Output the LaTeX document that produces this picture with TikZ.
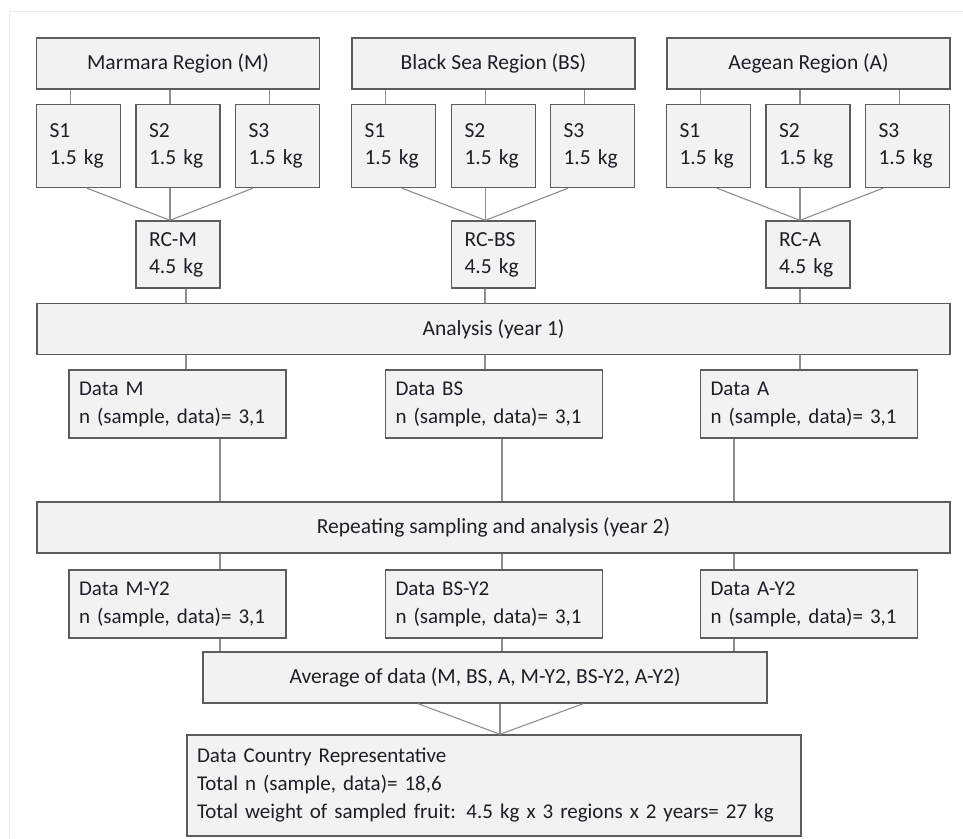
\documentclass[tikz,border=0pt]{standalone}
\usepackage{fontspec}
\setmainfont{Carlito}
\definecolor{ink}{HTML}{1E1E28}
\definecolor{edge}{HTML}{5C5C5C}
\definecolor{link}{HTML}{8E8E8E}
\definecolor{pale}{HTML}{F2F2F2}
\definecolor{frame}{HTML}{ECECEC}

\begin{document}
\begin{tikzpicture}[
  x=1pt,y=-1pt,
  font=\fontsize{21.5}{27}\selectfont,
  text=ink,
  region/.style={draw=edge,fill=pale,line width=1.4pt,
    minimum width=283pt,minimum height=51pt,inner sep=0pt,align=center},
  sample/.style={draw=edge,fill=pale,line width=1.4pt,
    minimum width=84pt,minimum height=83pt,inner sep=0pt,
    text width=58pt,align=left},
  wide/.style={draw=edge,fill=pale,line width=1.4pt,
    minimum width=913pt,minimum height=51pt,inner sep=0pt,align=center},
  datum/.style={draw=edge,fill=pale,line width=1.4pt,
    minimum width=217pt,minimum height=68pt,inner sep=0pt,
    text width=197pt,align=left,font=\fontsize{21}{28}\selectfont},
  link/.style={draw=link,line width=1.1pt}
]
\useasboundingbox (0,0) rectangle (963,838);
\draw[frame,line width=1pt] (9,838) -- (9,11) -- (963,11);

% regions and samples
\node[region] (mreg) at (178,63.5) {Marmara Region (M)};
\node[region] (bsreg) at (493.5,63.5) {Black Sea Region (BS)};
\node[region] (areg) at (808.5,63.5) {Aegean Region (A)};

\node[sample] (ms1) at (78.5,146) {S1\\1.5 kg};
\node[sample] (ms2) at (178,146) {S2\\1.5 kg};
\node[sample] (ms3) at (277.5,146) {S3\\1.5 kg};
\node[sample] (bss1) at (393.5,146) {S1\\1.5 kg};
\node[sample] (bss2) at (493.5,146) {S2\\1.5 kg};
\node[sample] (bss3) at (592.5,146) {S3\\1.5 kg};
\node[sample] (as1) at (708.5,146) {S1\\1.5 kg};
\node[sample] (as2) at (808,146) {S2\\1.5 kg};
\node[sample] (as3) at (907.5,146) {S3\\1.5 kg};

\node[sample,minimum height=67pt] (rcm) at (178,254.5) {RC-M\\4.5 kg};
\node[sample,minimum height=67pt] (rcbs) at (493.5,254.5) {RC-BS\\4.5 kg};
\node[sample,minimum height=67pt] (rca) at (808,254.5) {RC-A\\4.5 kg};

\foreach \reg/\sa/\sb/\sc/\rc in {mreg/ms1/ms2/ms3/rcm,bsreg/bss1/bss2/bss3/rcbs,areg/as1/as2/as3/rca}{
  \foreach \s in {\sa,\sb,\sc}
    \draw[link] ([xshift=-8pt]\s.north) -- ([xshift=-8pt]\s.north |- \reg.south);
  \draw[link] ([xshift=8.5pt]\sa.south) -- ([xshift=-8pt]\rc.north);
  \draw[link] ([xshift=-8pt]\sb.south) -- ([xshift=-8pt]\rc.north);
  \draw[link] ([xshift=-24.5pt]\sc.south) -- ([xshift=-8pt]\rc.north);
}

% year 1
\node[wide] (ana) at (493.5,329) {Analysis (year 1)};
\node[datum] (dm) at (177.5,404) {Data M\\n (sample, data)= 3,1};
\node[datum] (dbs) at (494,404) {Data BS\\n (sample, data)= 3,1};
\node[datum] (da) at (809,404) {Data A\\n (sample, data)= 3,1};

\draw[link] (rcm.south -| 186,0) -- (ana.north -| 186,0);
\draw[link] (rcbs.south -| 485,0) -- (ana.north -| 485,0);
\draw[link] (rca.south -| 800,0) -- (ana.north -| 800,0);
\draw[link] (ana.south -| 186,0) -- (dm.north -| 186,0);
\draw[link] (ana.south -| 485,0) -- (dbs.north -| 485,0);
\draw[link] (ana.south -| 800,0) -- (da.north -| 800,0);

% year 2
\node[wide] (rep) at (493.5,527.5) {Repeating sampling and analysis (year 2)};
\node[datum] (dm2) at (177.5,604) {Data M-Y2\\n (sample, data)= 3,1};
\node[datum] (dbs2) at (494,604) {Data BS-Y2\\n (sample, data)= 3,1};
\node[datum] (da2) at (809,604) {Data A-Y2\\n (sample, data)= 3,1};

\foreach \up/\down/\xx in {dm/dm2/220,dbs/dbs2/502,da/da2/734}{
  \draw[link] (\up.south -| \xx,0) -- (rep.north -| \xx,0);
  \draw[link] (rep.south -| \xx,0) -- (\down.north -| \xx,0);
}

% average and country
\node[wide,minimum width=564pt] (avg) at (485,677.5)
  {Average of data (M, BS, A, M-Y2, BS-Y2, A-Y2)};
\node[datum,minimum width=614pt,minimum height=101pt,text width=594pt] (ctry) at (494,785.5)
  {Data Country Representative\\Total n (sample, data)= 18,6\\
   Total weight of sampled fruit: 4.5 kg x 3 regions x 2 years= 27 kg};

\foreach \xx in {220,502,734}
  \draw[link] (dm2.south -| \xx,0) -- (avg.north -| \xx,0);
\draw[link] (avg.south -| 418,0) -- (ctry.north -| 500,0);
\draw[link] (avg.south -| 500,0) -- (ctry.north -| 500,0);
\draw[link] (avg.south -| 583,0) -- (ctry.north -| 500,0);
\end{tikzpicture}
\end{document}
